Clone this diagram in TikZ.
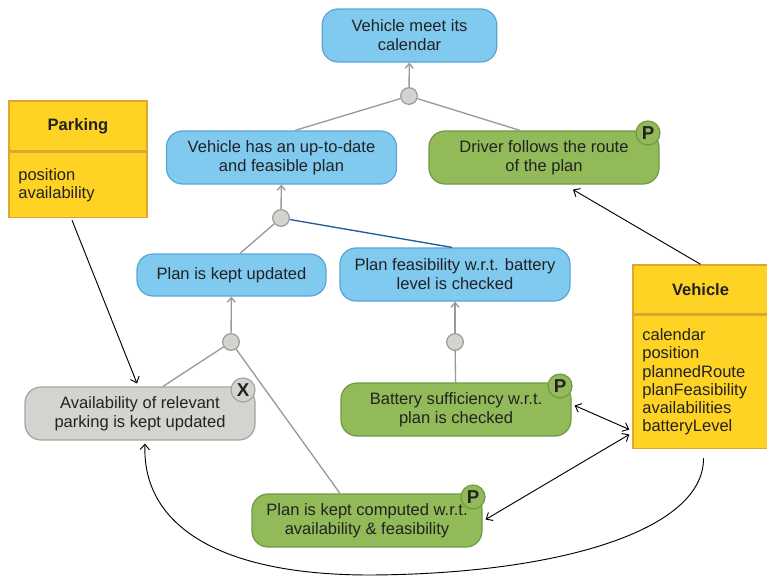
\documentclass[tikz,border=0pt]{standalone}
\usepackage{fontspec}
\setmainfont{Liberation Sans}
\usetikzlibrary{arrows.meta,calc}
\definecolor{goalblue}{HTML}{80C9EF}
\definecolor{goalblueline}{HTML}{5AA5D5}
\definecolor{taskgreen}{HTML}{93BA59}
\definecolor{taskgreenline}{HTML}{6F9A45}
\definecolor{stubgray}{HTML}{D3D3CF}
\definecolor{stubgrayline}{HTML}{A3A39F}
\definecolor{entyellow}{HTML}{FFD324}
\definecolor{entline}{HTML}{E0A530}
\definecolor{linkgray}{HTML}{9A9A9A}
\definecolor{linkblue}{HTML}{1F5C99}
\definecolor{txt}{HTML}{222222}

\tikzset{
  relhead/.tip={Straight Barb[length=4pt,width=7pt]},
  uphead/.tip={Straight Barb[length=3.5pt,width=6pt]}
}

\begin{document}
\begin{tikzpicture}[x=0.75pt,y=-0.75pt,
  font=\fontsize{12.4}{14.25}\selectfont, text=txt,
  box/.style={rounded corners=12pt, line width=0.9pt, align=center, inner sep=0pt,
    minimum width=172.5pt, minimum height=39.75pt},
  goal/.style={box, fill=goalblue, draw=goalblueline},
  task/.style={box, fill=taskgreen, draw=taskgreenline},
  stub/.style={box, fill=stubgray, draw=stubgrayline},
  junction/.style={circle, fill=stubgray, draw=linkgray, line width=0.9pt,
    minimum size=12.5pt, inner sep=0pt},
  badge/.style={circle, line width=0.9pt, minimum size=18pt, inner sep=0pt,
    font=\fontsize{14}{14}\selectfont\bfseries},
  pbadge/.style={badge, fill=taskgreen, draw=taskgreenline},
  xbadge/.style={badge, fill=stubgray, draw=stubgrayline},
  enthead/.style={rectangle, fill=entyellow, draw=entline, line width=1.1pt,
    inner sep=0pt, font=\fontsize{12.4}{14}\selectfont\bfseries},
  entbody/.style={rectangle, fill=entyellow, draw=entline, line width=1.1pt,
    inner xsep=7pt, inner ysep=0pt, align=left,
    font=\fontsize{12.4}{13.7}\selectfont},
  refine/.style={draw=linkgray, line width=1pt},
  up/.style={refine, -uphead},
  rel/.style={draw=black, line width=0.7pt}
]
\useasboundingbox (0,0) rectangle (767,576);
\clip (0,0) rectangle (767,576);

% goals and tasks
\node[goal, minimum width=131pt] (top) at (409.5,35.5) {Vehicle meet its\\calendar};
\node[goal] (vplan) at (281.5,157.5) {Vehicle has an up-to-date\\and feasible plan};
\node[task] (driver) at (544,157.5) {Driver follows the route\\of the plan};
\node[goal, minimum width=141.75pt, minimum height=31.5pt] (kept) at (231.5,275) {Plan is kept updated};
\node[goal] (feas) at (455,274.5) {Plan feasibility w.r.t. battery\\level is checked};
\node[stub] (avail) at (140,413.5) {Availability of relevant\\parking is kept updated};
\node[task] (batt) at (456,409.5) {Battery sufficiency w.r.t.\\plan is checked};
\node[task] (comp) at (367,520.5) {Plan is kept computed w.r.t.\\availability \& feasibility};

% badges
\node[pbadge] (pdriver) at (648,133) {P};
\node[pbadge] (pbatt) at (560,386) {P};
\node[pbadge] (pcomp) at (473,497) {P};
\node[xbadge] (xavail) at (243,390) {X};

% entities
\node[enthead, minimum width=103.5pt, minimum height=37.5pt] (parkH) at (78,126) {\raisebox{-2.2pt}{Parking}};
\node[entbody, anchor=north, text width=89.5pt, minimum height=48.75pt] (parkB) at (parkH.south) {position\\availability};
\node[enthead, minimum width=101.25pt, minimum height=36.75pt] (vehH) at (700.5,289.5) {\raisebox{-2.2pt}{Vehicle}};
\node[entbody, anchor=north, text width=87.25pt, minimum height=99.75pt] (vehB) at (vehH.south)
  {calendar\\position\\plannedRoute\\planFeasibility\\availabilities\\batteryLevel};

% refinement junctions
\node[junction] (j1) at (409,96) {};
\node[junction] (j2) at (281,218) {};
\node[junction] (j3) at (231,342) {};
\node[junction] (j4) at (455,342) {};

% refinement links
\draw[up] (j1) -- (top);
\draw[refine] (j1) -- ($(vplan.north)+(13.5,0)$);
\draw[refine] (j1) -- ($(driver.north)+(-24,0)$);
\draw[up] (j2) -- (vplan);
\draw[refine] (j2) -- ($(kept.north)+(8.5,0)$);
\draw[draw=linkblue, line width=1pt] (j2) -- ($(feas.north)+(-3,0)$);
\draw[up] (j3) -- (kept);
\draw[refine] (j3) -- ($(avail.north)+(23,0)$);
\draw[refine] (j3) -- ($(comp.north)+(-27,0)$);
\draw[up] (j4) -- (feas);
\draw[refine] (j4) -- (batt);

% entity relations
\draw[rel, -relhead] ($(parkB.south)+(-6,2)$) -- ($(avail.north)+(-3,-3)$);
\draw[rel, -relhead] (vehH.north) -- ($(driver.south)+(29,5)$);
\draw[rel, relhead-relhead] ($(batt.east)+(3,-4)$) -- ($(vehB.west)+(-3,47.5)$);
\draw[rel, relhead-relhead] ($(comp.east)+(3,-1)$) -- ($(vehB.west)+(-3,52.5)$);
\draw[rel, -relhead] ($(vehB.south)+(3,9)$)
  .. controls (704,530) and (560,574) .. (370,575)
  .. controls (210,575) and (142,520) .. ($(avail.south)+(5,3)$);
\end{tikzpicture}
\end{document}
